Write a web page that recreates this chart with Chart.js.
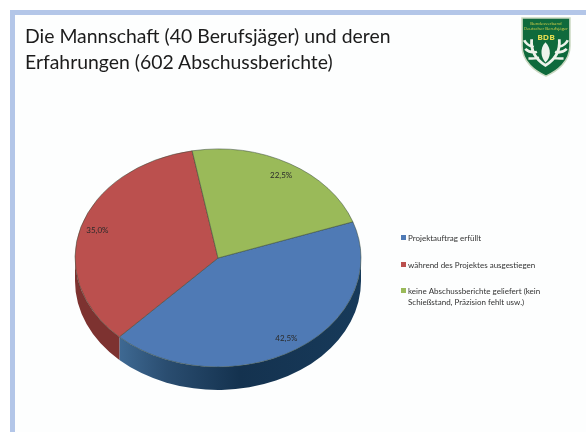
<!DOCTYPE html>
<html><head><meta charset="utf-8">
<style>
html,body{margin:0;padding:0;background:#fff;width:586px;height:432px;overflow:hidden}
#frame{position:absolute;left:10px;top:10px;width:576px;height:422px;box-sizing:border-box;background:#fdfefe;border-left:5px solid #b3c6e8;border-top:5px solid #b3c6e8;filter:blur(.7px)}
#title{position:absolute;left:25px;top:23px;font-family:"Lato";font-size:19.4px;line-height:26px;color:#1c1c1c;white-space:nowrap;filter:blur(.4px)}
#wrap{position:absolute;left:0;top:0;width:586px;height:432px;filter:blur(.45px)}
#logo{position:absolute;left:521px;top:17px;filter:blur(.6px)}
</style></head><body>
<div id="frame"></div>
<div id="title">Die Mannschaft (40 Berufsjäger) und deren<br>Erfahrungen (602 Abschussberichte)</div>
<svg id="logo" width="50" height="60" viewBox="0 0 47 62" preserveAspectRatio="none">
<path d="M1 1H46V30C46 46 34 56 23.5 61C13 56 1 46 1 30Z" fill="#0f6a3c" stroke="#c9d8c0" stroke-width="1.5"/>
<text x="23.5" y="8" font-size="4" text-anchor="middle" fill="#d8d24a" font-family="Open Sans">Bundesverband</text>
<text x="23.5" y="13" font-size="4" text-anchor="middle" fill="#d8d24a" font-family="Open Sans">Deutscher Berufsjäger</text>
<text x="23.5" y="24" font-size="8" font-weight="bold" text-anchor="middle" fill="#e2dc50" font-family="Open Sans">BDB</text>
<path d="M23 26C17 33 19 42 23 47C28 42 29 33 23 26Z" fill="#eef3ea"/>
<path d="M10 23C9 36 14 44 23 50C32 44 37 36 36 23M3 24C6 30 9 30 12 31M4 33C8 37 12 37 15 36M7 43C11 43 14 43 17 42M44 24C41 30 38 30 35 31M43 33C39 37 35 37 32 36M40 43C36 43 33 43 30 42" fill="none" stroke="#eef3ea" stroke-width="2.6"/>
</svg>
<div id="wrap"><canvas id="c" width="586" height="432"></canvas></div>
<script src="https://cdn.jsdelivr.net/npm/chart.js@4/dist/chart.umd.min.js"></script>
<script>
const categories = ["Projektauftrag erfüllt", "während des Projektes ausgestiegen", "keine Abschussberichte geliefert (kein Schießstand, Präzision fehlt usw.)"];
const legendLines = [["Projektauftrag erfüllt"], ["während des Projektes ausgestiegen"], ["keine Abschussberichte geliefert (kein", "Schießstand, Präzision fehlt usw.)"]];
const shares = [42.5, 35.0, 22.5];
const valueLabels = ["42,5%", "35,0%", "22,5%"];
const colors = ["#4f7ab5", "#bb504e", "#9aba59"];
const sideDark = ["#14324f", "#7d3230", "#5f7a30"];
const sideLight = ["#3f6690", "#96403e", "#7d9a45"];

const squash = 0.762, depth = 23;
const pie3d = {
  id: 'pie3d',
  beforeDatasetsDraw(chart) {
    const ctx = chart.ctx, arcs = chart.getDatasetMeta(0).data;
    const cx = arcs[0].x, cy = arcs[0].y, r = arcs[0].outerRadius, ry = r * squash;
    ctx.save();
    arcs.forEach((a, i) => {
      [-2 * Math.PI, 0, 2 * Math.PI].forEach(shift => {
        // only the front half (screen angle 0..PI) of each slice shows a side wall
        const from = Math.max(a.startAngle + shift, 0), to = Math.min(a.endAngle + shift, Math.PI);
        if (to <= from) return;
        const g = ctx.createLinearGradient(cx - r * 0.7, 0, cx + r, 0);
        if (i === 0) {
          g.addColorStop(0, '#3f6a94'); g.addColorStop(0.2, '#2a4d70');
          g.addColorStop(0.5, sideDark[0]); g.addColorStop(1, '#173a5a');
        } else { g.addColorStop(0, sideDark[i]); g.addColorStop(1, sideLight[i]); }
        ctx.fillStyle = i === 1 ? sideDark[1] : g;
        ctx.beginPath();
        ctx.ellipse(cx, cy, r, ry, 0, from, to);
        ctx.ellipse(cx, cy + depth, r, ry, 0, to, from, true);
        ctx.closePath();
        ctx.fill();
      });
    });
    ctx.restore();
    ctx.save();
    ctx.translate(cx, cy); ctx.scale(1, squash); ctx.translate(-cx, -cy);
  },
  afterDatasetsDraw(chart) {
    const ctx = chart.ctx;
    ctx.restore();
    const arcs = chart.getDatasetMeta(0).data;
    ctx.save();
    ctx.font = '8px "Lato"';
    ctx.textAlign = 'center'; ctx.textBaseline = 'middle';
    ctx.fillStyle = '#2a2a2a';
    arcs.forEach((a, i) => {
      const m = (a.startAngle + a.endAngle) / 2, k = 0.88 * a.outerRadius;
      ctx.fillText(valueLabels[i], a.x + Math.cos(m) * k, a.y + Math.sin(m) * k * squash);
    });
    const lx = 401, tx = 408, rows = [238, 265, 291];
    ctx.textAlign = 'left';
    ctx.font = '8px "Lato"';
    legendLines.forEach((lines, i) => {
      ctx.fillStyle = colors[i];
      ctx.fillRect(lx, rows[i] - 3, 5, 5);
      ctx.fillStyle = '#333';
      lines.forEach((t, j) => ctx.fillText(t, tx, rows[i] + j * 11));
    });
    ctx.restore();
  }
};

new Chart(document.getElementById('c'), {
  type: 'pie',
  data: { labels: categories, datasets: [{ data: shares, backgroundColor: colors, borderColor: '#3a4a3a', borderWidth: 0.6, radius: 143 }] },
  options: {
    responsive: false, animation: false, rotation: 70.6,
    layout: { padding: { left: 0, right: 150, top: 84, bottom: 0 } },
    plugins: { legend: { display: false }, tooltip: { enabled: false }, title: { display: false } }
  },
  plugins: [pie3d]
});
</script>
</body></html>
